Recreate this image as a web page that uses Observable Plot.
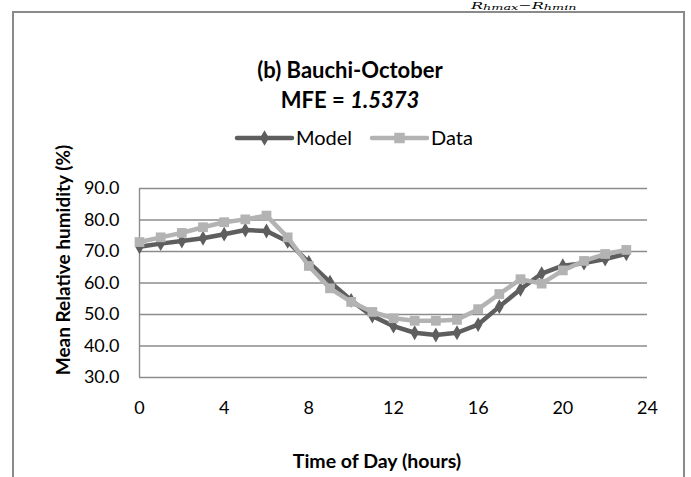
<!DOCTYPE html>
<html><head><meta charset="utf-8">
<script src="https://cdn.jsdelivr.net/npm/d3@7"></script>
<script src="https://cdn.jsdelivr.net/npm/@observablehq/plot@0.6"></script>
<style>
html,body{margin:0;padding:0;background:#fff;}
#wrap{position:relative;width:691px;height:477px;overflow:hidden;font-family:Lato,"Open Sans",sans-serif;}
#frame{position:absolute;left:12px;top:11px;width:673px;height:480px;border:2px solid #8a8a8a;box-sizing:border-box;}
.t{position:absolute;white-space:nowrap;color:#000;}
#formula{left:471px;top:1px;font-family:"DejaVu Serif",serif;font-style:italic;font-size:10px;line-height:1;transform:scaleX(1.6);transform-origin:left top;}
#formula sub{font-size:8px;vertical-align:-1px;line-height:1;}
#title{left:0;width:700px;text-align:center;top:56px;font-weight:bold;font-size:22px;}
#mfe{left:0;width:700px;text-align:center;top:86px;font-weight:bold;font-size:22px;}
#ylab{left:62px;top:260px;font-weight:bold;font-size:19px;transform:translate(-50%,-50%) rotate(-90deg);}
#xlab{left:377px;top:460px;font-weight:bold;font-size:19.5px;transform:translate(-50%,-50%);}
#legend{position:absolute;left:0;top:0;}
#chart{position:absolute;left:0;top:0;}
</style>
</head><body>
<div id="wrap">
  <div id="frame"></div>
  <div id="chart"></div>
  <div class="t" id="formula">R<sub>hmax</sub>−R<sub>hmin</sub></div>
  <div class="t" id="title">(b) Bauchi-October</div>
  <div class="t" id="mfe">MFE = <i>1.5373</i></div>
  <div class="t" id="ylab">Mean Relative humidity (%)</div>
  <div class="t" id="xlab">Time of Day (hours)</div>
  <svg id="legend" width="691" height="477"></svg>
</div>
<script>
const hours = [0,1,2,3,4,5,6,7,8,9,10,11,12,13,14,15,16,17,18,19,20,21,22,23];
const model = [71.5,72.5,73.3,74.2,75.5,76.8,76.5,73.2,66.5,60.3,54.5,49.5,46.3,44.2,43.5,44.2,46.8,52.5,58.0,63.0,65.5,66.3,67.6,69.3];
const dataObs = [73.0,74.5,75.9,77.7,79.3,80.2,81.4,74.5,65.4,58.3,54.0,50.8,48.8,48.0,48.0,48.3,51.7,56.5,61.2,59.8,64.0,67.0,69.2,70.5];
const seriesNames = ["Model","Data"];
const seriesColors = ["#5e5e5e","#b3b3b3"];
const xTicks = [0,4,8,12,16,20,24];
const yTicks = [30,40,50,60,70,80,90];

const rows = [];
hours.forEach((h,i)=>{
  rows.push({hour:h, value:model[i], series:"Model"});
  rows.push({hour:h, value:dataObs[i], series:"Data"});
});
const modelRows = rows.filter(d=>d.series==="Model");
const dataRows = rows.filter(d=>d.series==="Data");

const chart = Plot.plot({
  width:691, height:477,
  marginTop:188, marginBottom:100, marginLeft:139, marginRight:44,
  style:{fontFamily:"Lato, sans-serif", fontSize:"18px", color:"#000", background:"transparent"},
  x:{domain:[0,24]},
  y:{domain:[30,90]},
  color:{domain:seriesNames, range:seriesColors},
  marks:[
    Plot.gridY(yTicks, {stroke:"#8c8c8c", strokeOpacity:1, strokeWidth:1.4}),
    Plot.ruleX([0], {stroke:"#8c8c8c", strokeWidth:1.4}),
    Plot.axisY(yTicks, {tickSize:0, tickPadding:20, tickFormat:d=>d.toFixed(1), label:null, fontSize:18}),
    Plot.axisX(xTicks, {tickSize:0, tickPadding:24, label:null, fontSize:18}),
    Plot.line(modelRows, {x:"hour", y:"value", stroke:"series", strokeWidth:4.5, curve:"linear"}),
    Plot.dot(modelRows, {x:"hour", y:"value", fill:"series", symbol:"diamond", r:4.5}),
    Plot.line(dataRows, {x:"hour", y:"value", stroke:"series", strokeWidth:4.5, curve:"linear"}),
    Plot.dot(dataRows, {x:"hour", y:"value", fill:"series", symbol:"square", r:5.5})
  ]
});
document.getElementById("chart").appendChild(chart);

// legend
const lg = d3.select("#legend");
const legendItems = [
  {name:seriesNames[0], color:seriesColors[0], x0:237, x1:292, sym:d3.symbolDiamond, size:70},
  {name:seriesNames[1], color:seriesColors[1], x0:372, x1:427, sym:d3.symbolSquare, size:110}
];
const ly = 138;
legendItems.forEach(it=>{
  lg.append("line").attr("x1",it.x0).attr("x2",it.x1).attr("y1",ly).attr("y2",ly)
    .attr("stroke",it.color).attr("stroke-width",4.5).attr("stroke-linecap","round");
  lg.append("path").attr("d",d3.symbol(it.sym,it.size)()).attr("transform",`translate(${(it.x0+it.x1)/2},${ly})`).attr("fill",it.color);
  lg.append("text").attr("x",it.x1+4).attr("y",ly).attr("dy","0.35em").attr("font-family","Lato, sans-serif")
    .attr("font-size",20).text(it.name);
});
</script>
</body></html>
